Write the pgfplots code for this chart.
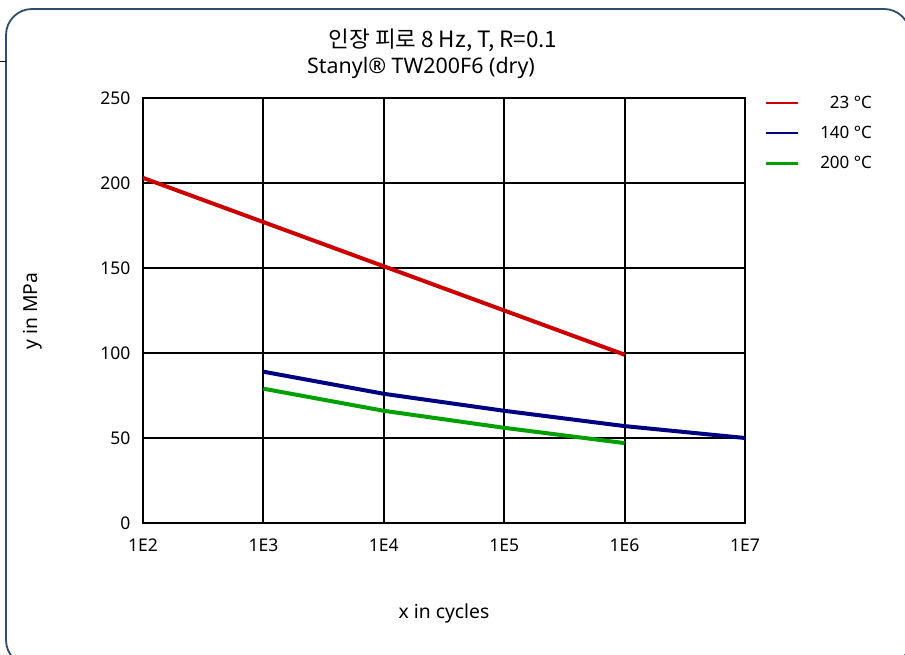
\documentclass[border=0pt]{standalone}
\usepackage{fontspec}
\setmainfont{Noto Sans}
\newfontfamily\kr{Noto Sans CJK KR}
\usepackage{pgfplots}
\pgfplotsset{compat=1.18}
\definecolor{framec}{HTML}{2E4D6B}
\definecolor{c23}{HTML}{CC0000}
\definecolor{c140}{HTML}{000080}
\definecolor{c200}{HTML}{00A000}
\begin{document}
\begin{tikzpicture}[x=1pt,y=1pt]
\useasboundingbox (0,0) rectangle (905,654);
\draw[framec, line width=1.8pt, rounded corners=26pt] (6,-12) rectangle (910,645);
\draw[black, line width=0.8pt] (0,593) -- (6,593);
\node[font=\kr\fontsize{22.5}{26}\selectfont] at (443,614) {인장 피로 8 Hz, T, R=0.1};
\node[font=\fontsize{21.4}{25}\selectfont] at (421,586) {Stanyl® TW200F6 (dry)};
\node[font=\fontsize{19.3}{23}\selectfont] at (444,41) {x in cycles};
\node[font=\fontsize{19.3}{23}\selectfont, rotate=90] at (33,343) {y in MPa};
\begin{axis}[
  at={(143pt,131pt)}, anchor=south west,
  width=602pt, height=425pt, scale only axis,
  xmode=log, xmin=1e2, xmax=1e7, ymin=0, ymax=250,
  xtick={1e2,1e3,1e4,1e5,1e6,1e7},
  xticklabels={1E2,1E3,1E4,1E5,1E6,1E7},
  ytick={0,50,100,150,200,250},
  minor xtick={}, minor ytick={},
  grid=major,
  major grid style={black, line width=1.9pt},
  axis line style={black, line width=1.9pt},
  major tick length=0pt,
  tick style={draw=none},
  /pgf/number format/assume math mode=true,
  ticklabel style={font=\fontsize{17.5}{21}\selectfont},
  xticklabel style={yshift=-12pt},
  yticklabel style={xshift=-9pt},
  legend style={draw=none, fill=none, at={(1.028,1.015)}, anchor=north west,
    font=\fontsize{17}{20}\selectfont, row sep=12.6pt, column sep=19pt},
  legend cell align=right,
  legend image code/.code={\draw[#1, line width=2.2pt] (0pt,0pt) -- (32pt,0pt);},
]
\addplot[c23, line width=4pt] coordinates {(1e2,203) (1e3,177) (1e4,151) (1e5,125) (1e6,99)};
\addlegendentry{\hphantom{1}23 °C}
\addplot[c140, line width=4pt] coordinates {(1e3,89) (1e4,76) (1e5,66) (1e6,57) (1e7,50)};
\addlegendentry{140 °C}
\addplot[c200, line width=4pt] coordinates {(1e3,79) (1e4,66) (1e5,56) (1e6,47)};
\addlegendentry{200 °C}
\end{axis}
\end{tikzpicture}
\end{document}
